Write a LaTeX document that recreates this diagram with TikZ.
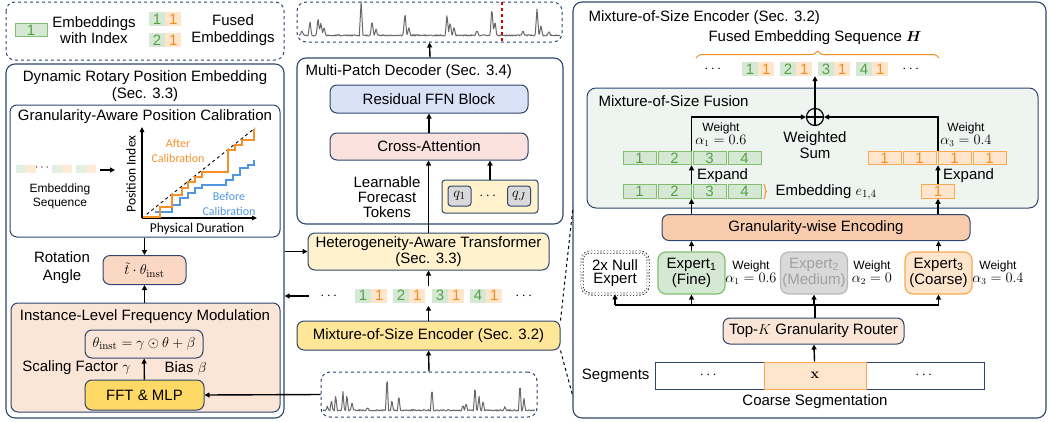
\documentclass[tikz,border=0pt]{standalone}
\usepackage{amsmath}
\usepackage[no-math]{fontspec}
\setmainfont{Liberation Sans}
\newfontfamily\calfont{Carlito}
\usetikzlibrary{arrows.meta,positioning,decorations.pathreplacing}

\definecolor{navy}{RGB}{46,70,110}
\definecolor{gfill}{RGB}{213,232,212}
\definecolor{gline}{RGB}{130,190,110}
\definecolor{gtxt}{RGB}{88,160,72}
\definecolor{ofill}{RGB}{255,229,204}
\definecolor{oline}{RGB}{248,168,80}
\definecolor{otxt}{RGB}{242,140,30}
\definecolor{peach}{RGB}{251,229,214}
\definecolor{salmon}{RGB}{248,203,173}
\definecolor{rotfill}{RGB}{250,216,196}
\definecolor{gold}{RGB}{255,217,102}
\definecolor{lgold}{RGB}{255,230,153}
\definecolor{cream}{RGB}{255,242,204}
\definecolor{lav}{RGB}{218,226,248}
\definecolor{pink}{RGB}{251,226,223}
\definecolor{mint}{RGB}{238,244,240}
\definecolor{ashfill}{RGB}{217,217,217}
\definecolor{ashline}{RGB}{185,185,185}
\definecolor{ashtxt}{RGB}{160,160,160}
\definecolor{tsgray}{RGB}{105,105,105}
\definecolor{calor}{RGB}{245,145,40}
\definecolor{calbl}{RGB}{80,150,225}

\newcommand\fs{\fontsize{15}{16.5}\selectfont}
\newcommand\fsm{\fontsize{12}{13}\selectfont}
% weight label: word over a slightly larger formula
\newcommand\wgt[1]{Weight\\{\fontsize{13.5}{13}\selectfont$#1$}}

\tikzset{
  panel/.style={draw=navy, line width=1.1pt, rounded corners=9pt, inner sep=0pt},
  blk/.style={draw=navy, line width=1pt, rounded corners=7pt, align=center, inner sep=0pt},
  dashbox/.style={draw=navy, line width=1pt, dashed, rounded corners=9pt, inner sep=0pt},
  arr/.style={-{Triangle[length=5pt,width=5pt]}, line width=1.4pt},
  gtok/.style={fill=gfill, text=gtxt, minimum width=16pt, minimum height=14pt, inner sep=0pt},
  otok/.style={fill=ofill, text=otxt, minimum width=16pt, minimum height=14pt, inner sep=0pt},
  gcell/.style={draw=gline, fill=gfill, text=gtxt, line width=1pt, minimum width=33pt, minimum height=13.5pt, inner sep=0pt},
  ocell/.style={draw=oline, fill=ofill, text=otxt, line width=1pt, minimum width=33pt, minimum height=13.5pt, inner sep=0pt},
  expert/.style={rounded corners=8pt, line width=1.2pt, minimum width=67pt, minimum height=42pt, align=center, inner sep=0pt, font=\fontsize{15}{16}\selectfont},
  wlab/.style={font=\fsm, align=center, inner sep=0pt},
  axlab/.style={font=\calfont\fontsize{13.5}{14}\selectfont},
  callab/.style={font=\calfont\fontsize{12}{15}\selectfont, align=center},
  series/.style={tsgray, line width=1pt, line join=round},
  stair/.style={line width=2pt},
}

% fused embedding: index cell + granularity cell
\newcommand\fpair[3]{%
  \node[gtok] (#1g) at (#2) {#3};
  \node[otok, right=0pt of #1g] (#1o) {1};}

\begin{document}
\begin{tikzpicture}[x=1pt, y=-1pt, font=\fs,
  declare function={
    pk(\pos,\ctr,\hgt)=\hgt*max(0,1-abs(\pos-\ctr)/0.007);
    tsout(\pos)=pk(\pos,0.011,0.15)+pk(\pos,0.042,0.45)+pk(\pos,0.073,0.55)+pk(\pos,0.084,0.4)
      +pk(\pos,0.096,0.25)+pk(\pos,0.238,1.0)+pk(\pos,0.28,0.45)+pk(\pos,0.295,0.2)
      +pk(\pos,0.406,0.7)+pk(\pos,0.421,0.25)+pk(\pos,0.567,0.65)+pk(\pos,0.579,0.4)
      +pk(\pos,0.594,0.25)+pk(\pos,0.682,0.15)+pk(\pos,0.739,0.85)+pk(\pos,0.751,0.45)
      +pk(\pos,0.858,0.15)+pk(\pos,0.912,0.85)+pk(\pos,0.927,0.3)+pk(\pos,0.958,0.12)+0.04*rnd;
    tsin(\pos)=pk(\pos,0.02,0.12)+pk(\pos,0.04,0.3)+pk(\pos,0.06,0.45)+pk(\pos,0.094,0.55)
      +pk(\pos,0.113,0.45)+pk(\pos,0.137,0.25)+pk(\pos,0.21,0.08)+pk(\pos,0.302,1.0)
      +pk(\pos,0.325,0.3)+pk(\pos,0.358,0.45)+pk(\pos,0.514,0.65)+pk(\pos,0.66,0.15)
      +pk(\pos,0.675,0.2)+pk(\pos,0.717,0.7)+pk(\pos,0.736,0.4)+pk(\pos,0.755,0.3)
      +pk(\pos,0.858,0.1)+pk(\pos,0.929,0.8)+pk(\pos,0.948,0.35)+0.04*rnd;
  }]
\useasboundingbox (0,0) rectangle (1050,421);
\pgfmathsetseed{11}

% ---------- legend ----------
\draw[dashbox] (6,2) rectangle (284,60);
\node[gcell, minimum width=32pt] (leg) at (31,30) {1};
\node[align=center] (legt) at (94,30) {Embeddings\\with Index};
\fpair{la}{157,19}{1}
\fpair{lb}{157,40}{2}
\node[align=center] (legf) at (233,30) {Fused\\Embeddings};

% ---------- dynamic rotary position embedding ----------
\node[panel, minimum width=278pt, minimum height=354pt] (drpe) at (145,241) {};
\node[align=center] (drpet) at (145,86) {Dynamic Rotary Position Embedding\\[1pt](Sec. 3.3)};

\node[blk, minimum width=270pt, minimum height=132pt] (gapc) at (145,171) {};
\node (gapct) at (145,117) {Granularity-Aware Position Calibration};
\foreach \ex in {16,52,76}{
  \fill[gfill!70] (\ex,165) rectangle +(10,8);
  \fill[ofill!80] (\ex+10,165) rectangle +(10,8);
}
\node[font=\fsm] (esd) at (43,168) {$\cdots$};
\coordinate (es) at (100,170);
\coordinate (pl) at (115,170);
\draw[arr] (es) -- (pl);
\node[font=\fsm, align=center] (est) at (60,196) {Embedding\\[1pt]Sequence};

% calibration plot
\coordinate (o) at (142,218);
\draw[line width=1.3pt, -{Triangle[length=5pt,width=4.5pt]}] (o) -- (142,127);
\draw[line width=1.3pt, -{Triangle[length=5pt,width=4.5pt]}] (o) -- (257,218);
\draw[dashed, line width=0.9pt] (o) -- (255,128);
\draw[stair, calbl] (155,212) -- (172,212) -- (172,205) -- (180,205) -- (180,198) -- (188,198)
  -- (188,193) -- (195,193) -- (195,188) -- (202,188) -- (202,185) -- (226,185) -- (226,180)
  -- (233,180) -- (233,175) -- (240,175) -- (240,168) -- (248,168) -- (248,165) -- (254,165) -- (254,160);
\draw[stair, calor] (143,217) -- (160,217) -- (160,207) -- (172,207) -- (172,195) -- (182,195)
  -- (182,188) -- (188,188) -- (188,182) -- (195,182) -- (195,177) -- (202,177) -- (202,172)
  -- (228,172) -- (228,150) -- (235,150) -- (235,145) -- (242,145) -- (242,140) -- (254,140) -- (254,129);
\node[axlab, rotate=90] (yl) at (131,174) {Position Index};
\node[axlab] (xl) at (197,229) {Physical Duration};
\node[callab, text=calor] (acal) at (178,151) {After\\Calibration};
\node[callab, text=calbl] (bcal) at (229,204) {Before\\Calibration};

\node[blk, fill=rotfill, minimum width=83pt, minimum height=29pt] (rot) at (144.5,270) {$\tilde{t}\cdot\theta_{\mathrm{inst}}$};
\node[align=center] (rott) at (62,268) {Rotation\\[1.5pt]Angle};

\node[blk, fill=peach, minimum width=269pt, minimum height=109pt] (ilfm) at (145.5,357.5) {};
\node (ilfmt) at (145,317) {Instance-Level Frequency Modulation};
\node[blk, fill=peach, minimum width=118pt, minimum height=28pt] (theta) at (144,344) {$\theta_{\mathrm{inst}}=\gamma\odot\theta+\beta$};
\node[anchor=east] (sfac) at (134,368) {Scaling Factor $\gamma$};
\node[anchor=west] (bias) at (161,368) {Bias $\beta$};
\node[blk, fill=gold, minimum width=119pt, minimum height=30pt] (fft) at (144.5,395) {FFT \& MLP};

\draw[arr] (rot.north |- gapc.south) -- (rot.north);
\draw[arr] (rot.south |- ilfm.north) -- (rot.south);
\draw[arr] (fft) -- (theta);

% ---------- decoder column ----------
\node[dashbox, minimum width=265pt, minimum height=40pt] (outts) at (429.5,22) {};
\draw[series] plot[domain=0:1, samples=420] ({299+261*\x}, {36-33*tsout(\x)});
\draw[red!85!black, dashed, line width=1.3pt] (502,2) -- (502,42);

\node[panel, minimum width=266pt, minimum height=166pt] (mpd) at (430,141) {};
\node[anchor=west] (mpdt) at (302,72) {Multi-Patch Decoder (Sec. 3.4)};
\node[blk, fill=lav, minimum width=198pt, minimum height=28pt] (ffn) at (429,99) {Residual FFN Block};
\node[blk, fill=pink, minimum width=198pt, minimum height=27pt] (xatt) at (429,146.5) {Cross-Attention};
\node[align=center, font=\fontsize{15}{15}\selectfont] (lft) at (387,197) {Learnable\\Forecast\\Tokens};
\node[draw=navy, line width=1pt, rounded corners=3pt, fill=cream, minimum width=96pt, minimum height=33pt] (qbox) at (490,196.5) {};
\node[draw=navy, line width=1pt, rounded corners=3pt, fill=ashfill, minimum width=23pt, minimum height=20pt, inner sep=0pt] (q1) at (459.5,196) {$q_1$};
\node (qd) at (489,196) {$\cdots$};
\node[draw=navy, line width=1pt, rounded corners=3pt, fill=ashfill, minimum width=23pt, minimum height=20pt, inner sep=0pt] (qj) at (519,196) {$q_J$};

\node[blk, fill=cream, minimum width=241pt, minimum height=37pt] (hat) at (428.5,251.5) {Heterogeneity-Aware Transformer\\(Sec. 3.3)};

\node (pdl) at (330,296) {$\cdots$};
\fpair{p1}{363,295.5}{1}
\fpair{p2}{401,295.5}{2}
\fpair{p3}{440,295.5}{3}
\fpair{p4}{478,295.5}{4}
\node (pdr) at (525,296) {$\cdots$};

\node[blk, fill=lgold, minimum width=263pt, minimum height=29pt] (mose) at (428.5,335.5) {Mixture-of-Size Encoder (Sec. 3.2)};
\node[dashbox, minimum width=216pt, minimum height=45pt] (ints) at (429,394.5) {};
\draw[series] plot[domain=0:1, samples=340] ({323+212*\x}, {411-35*tsin(\x)});

\draw[arr] (ffn.south |- xatt.north) -- (ffn.south);
\draw[arr] (qbox.north) -- (qbox.north |- xatt.south);
\draw[arr] (hat.north) -- (hat.north |- xatt.south);
\draw[arr] (mpd.north) -- (outts.south);
\draw[arr, shorten >=3pt] (mose.north) -- (mose.north |- p3g.south);
\draw[arr, shorten <=2pt] (mose.north |- p3g.north) -- (hat.south);
\draw[arr] (ints.north) -- (mose.south);
\draw[arr] (drpe.east |- hat.west) -- (hat.west);
\draw[arr] ([xshift=-8pt]pdl.west) -- (drpe.east |- pdl.west);
\draw[arr] (ints.west) -- (fft.east);

% ---------- mixture-of-size encoder ----------
\node[panel, minimum width=473pt, minimum height=416pt] (mos) at (809.5,210) {};
\coordinate (zt) at (573,207);
\coordinate (zb) at (573,397);
\draw[dashed, line width=1pt] (mose.north east) -- (zt);
\draw[dashed, line width=1pt] (mose.south east) -- (zb);
\node[anchor=west] (most) at (585,18) {Mixture-of-Size Encoder (Sec. 3.2)};
\node (fest) at (815,38) {Fused Embedding Sequence $\boldsymbol{H}$};
\draw[otxt, line width=1pt, decorate, decoration={brace, amplitude=7pt}] (696,58) -- (939,58);
\node (fdl) at (714,69) {$\cdots$};
\fpair{f1}{750,69}{1}
\fpair{f2}{788,69}{2}
\fpair{f3}{826,69}{3}
\fpair{f4}{864,69}{4}
\node (fdr) at (912,69) {$\cdots$};

\node[blk, fill=mint, rounded corners=9pt, minimum width=451pt, minimum height=120pt] (mosf) at (812.5,148) {};
\node[anchor=west] (mosft) at (595,101) {Mixture-of-Size Fusion};
\node[draw, circle, line width=1.2pt, minimum size=17pt, inner sep=0pt] (sum) at (815,117) {};
\draw[line width=1.2pt] (sum.north) -- (sum.south) (sum.west) -- (sum.east);
\node[align=center] (wst) at (815,145) {Weighted\\Sum};
\foreach \i/\xc in {1/639.5,2/674.5,3/709.5,4/744.5}{
  \node[gcell] (ug\i) at (\xc,158) {\i};
  \node[gcell] (lg\i) at (\xc,191.5) {\i};
}
\foreach \i/\xc in {1/884.5,2/919.5,3/954.5,4/989.5}
  \node[ocell] (uo\i) at (\xc,158) {1};
\node[ocell] (lo) at (938,191.5) {1};
\draw[otxt, line width=1pt, decorate, decoration={brace, amplitude=3pt}] ([xshift=2pt]lg4.north east) -- ([xshift=2pt]lg4.south east);
\node[anchor=west] (embt) at (772,192) {Embedding $e_{1,4}$};
\node[wlab] (w1u) at (721,134.5) {\wgt{\alpha_1=0.6}};
\node[wlab] (w3u) at (966,134.5) {\wgt{\alpha_3=0.4}};

\node[blk, fill=salmon, minimum width=308pt, minimum height=26pt] (gwe) at (816,227.5) {Granularity-wise Encoding};

\node[expert, draw, dotted, double, double distance=1.8pt, line width=0.6pt, minimum width=66pt, font=\fontsize{15}{13.5}\selectfont] (null) at (615,273) {2x Null\\Expert};
\node[expert, draw=gline, fill=gfill] (e1) at (691.5,273) {Expert\textsubscript{1}\\(Fine)};
\node[expert, draw=ashline, fill=ashfill, text=ashtxt] (e2) at (814,273) {Expert\textsubscript{2}\\(Medium)};
\node[expert, draw=oline, fill=ofill] (e3) at (938.5,273) {Expert\textsubscript{3}\\(Coarse)};
\node[wlab] (w1) at (751,272.5) {\wgt{\alpha_1=0.6}};
\node[wlab] (w2) at (872,272.5) {\wgt{\alpha_2=0}};
\node[wlab] (w3) at (998,272.5) {\wgt{\alpha_3=0.4}};

\node[blk, fill=peach, minimum width=181pt, minimum height=26pt] (router) at (813.5,331) {Top-$K$ Granularity Router};
\coordinate (rj) at (815,305);

\node[draw=navy, line width=1pt, minimum width=109pt, minimum height=27pt] (segl) at (709.5,375.5) {$\cdots$};
\node[draw=navy, line width=1pt, minimum width=118pt, minimum height=27pt] (segr) at (925,375.5) {$\cdots$};
\node[draw=oline, fill=ofill, line width=1pt, minimum width=102pt, minimum height=27pt] (segx) at (815,375.5) {$\mathbf{x}$};
\node[anchor=east] (segt) at (653,375.5) {Segments};
\node (cst) at (815,402) {Coarse Segmentation};

\draw[arr] (segx) -- (router);
\draw[line width=2pt] (router.north -| rj) -- (rj);
\draw[line width=1.6pt] (null.south |- rj) -- (e3.south |- rj);
\foreach \e in {null,e1,e2,e3}
  \draw[arr] (\e.south |- rj) -- (\e.south);
\draw[arr] (e1) -- (e1 |- gwe.south);
\draw[arr] (e3) -- (e3 |- gwe.south);
\draw[arr] (e1 |- gwe.north) -- (e1 |- lg1.south);
\draw[arr] (lo |- gwe.north) -- (lo.south);
\draw[arr] (e1 |- lg1.north) -- (e1 |- ug1.south);
\draw[arr] (lo.north) -- (lo |- uo1.south);
\node[anchor=west, inner sep=0pt] (exp1) at (697,176) {Expand};
\node[anchor=west, inner sep=0pt] (exp3) at (943,176) {Expand};
\draw[arr] (e1 |- ug1.north) |- (sum.west);
\draw[arr] (lo |- uo1.north) |- (sum.east);
\draw[arr] (sum.north) -- (sum.north |- f2g.south);
\end{tikzpicture}
\end{document}
